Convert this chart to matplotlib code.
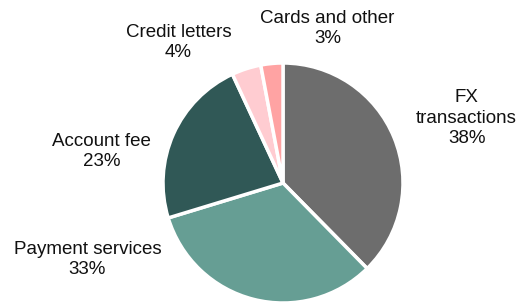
import matplotlib
matplotlib.use('Agg')
from matplotlib import pyplot as plt

labels = ['FX\ntransactions', 'Payment services', 'Account fee', 'Credit letters', 'Cards and other']
shares = [38, 33, 23, 4, 3]
colours = ['#6d6d6d', '#669e94', '#305856', '#ffccd1', '#ffa3a3']

# label centres in pie-radius units (layout only)
label_pos = [(1.53, 0.54), (-1.63, -0.64), (-1.51, 0.26), (-0.87, 1.17), (0.37, 1.29)]

plt.rcParams['font.family'] = ['Liberation Sans', 'DejaVu Sans']

fig = plt.figure(figsize=(5.3, 3.03), dpi=100)
ax = fig.add_axes([0, 0, 1, 1])

ax.pie(shares, colors=colours, startangle=90, counterclock=False,
       wedgeprops={'edgecolor': 'white', 'linewidth': 2.5})

for lab, val, (x, y) in zip(labels, shares, label_pos):
    ax.text(x, y, f'{lab}\n{val}%', ha='center', va='center', fontsize=13.5,
            color='#111111', linespacing=1.25)

ax.set_xlim(-283 / 120, (530 - 283) / 120)
ax.set_ylim(-(303 - 183) / 120, 183 / 120)
ax.set_aspect('equal')
ax.axis('off')

fig.savefig('out.png', dpi=100)
